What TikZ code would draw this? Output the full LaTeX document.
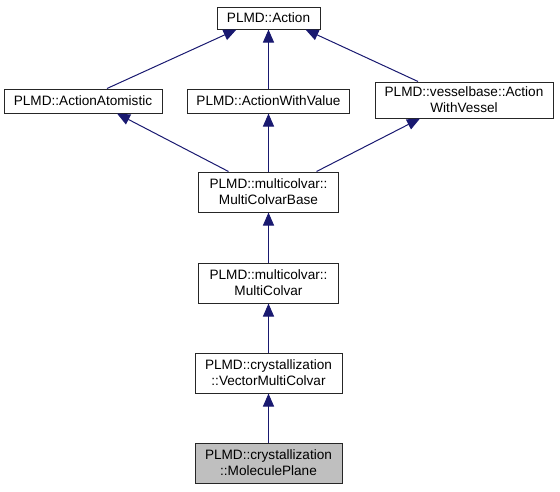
\documentclass[tikz,border=0pt]{standalone}
\usepackage{fontspec}
\setmainfont{Liberation Sans}
\usetikzlibrary{arrows.meta}
\definecolor{edgeblue}{HTML}{191970}
\definecolor{hlgray}{HTML}{BFBFBF}
\begin{document}
\begin{tikzpicture}[x=1pt,y=-1pt,
  box/.style={draw=black!85,line width=1pt,rectangle,inner sep=2pt,align=center,
    font=\fontsize{13.6}{16}\selectfont},
  edge/.style={draw=edgeblue,line width=1pt,-{Triangle[length=13pt,width=11pt]}}]
\useasboundingbox (0,0) rectangle (560,491);
\node[box,minimum width=103pt,minimum height=22pt] (action) at (268.5,18) {PLMD::Action};
\node[box,minimum width=158pt,minimum height=24pt] (atom) at (83,101) {PLMD::ActionAtomistic};
\node[box,minimum width=162pt,minimum height=24pt] (awv) at (268.5,101) {PLMD::ActionWithValue};
\node[box,minimum width=178pt,minimum height=36pt] (vessel) at (464,100) {PLMD::vesselbase::Action\\WithVessel};
\node[box,minimum width=140pt,minimum height=40pt] (mcb) at (268.5,192) {PLMD::multicolvar::\\MultiColvarBase};
\node[box,minimum width=140pt,minimum height=40pt] (mc) at (268.5,283) {PLMD::multicolvar::\\MultiColvar};
\node[box,minimum width=147pt,minimum height=40pt] (vmc) at (268.5,373) {PLMD::crystallization\\::VectorMultiColvar};
\node[box,fill=hlgray,minimum width=147pt,minimum height=40pt] (mp) at (268.5,463) {PLMD::crystallization\\::MoleculePlane};
\draw[edge] ([xshift=24pt]atom.north) -- ([xshift=-32pt]action.south);
\draw[edge] (awv.north) -- (action.south);
\draw[edge] ([xshift=-46pt]vessel.north) -- ([xshift=37pt]action.south);
\draw[edge] ([xshift=-40pt]mcb.north) -- ([xshift=34pt]atom.south);
\draw[edge] (mcb.north) -- (awv.south);
\draw[edge] ([xshift=48pt]mcb.north) -- ([xshift=-44pt]vessel.south);
\draw[edge] (mc.north) -- (mcb.south);
\draw[edge] (vmc.north) -- (mc.south);
\draw[edge] (mp.north) -- (vmc.south);
\end{tikzpicture}
\end{document}
